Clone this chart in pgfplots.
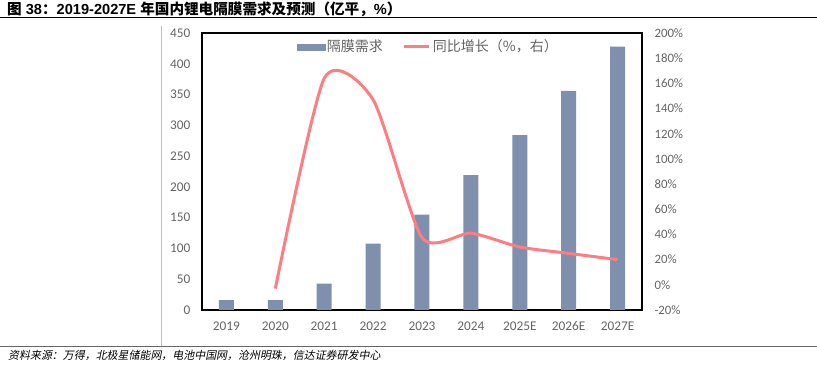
\documentclass[border=0pt]{standalone}
\usepackage{fontspec}
\setmainfont{Carlito}
\newfontfamily\cjk{Noto Sans CJK SC}
\newfontfamily\cjkit[FakeSlant=0.2]{Noto Sans CJK SC}
\newfontfamily\arial{Liberation Sans}
\usepackage{pgfplots}
\pgfplotsset{compat=1.18}
\definecolor{barc}{RGB}{127,143,174}
\definecolor{linec}{RGB}{255,124,128}
\definecolor{tickc}{RGB}{100,100,100}
\begin{document}
\begin{tikzpicture}
\path[use as bounding box] (0pt,0pt) rectangle (817pt,366pt);
\node[anchor=west, inner sep=0pt, font=\arial\bfseries\fontsize{14.6}{16}\selectfont] at (7pt,357pt) {{\cjk\bfseries 图} 38{\cjk\bfseries ：}2019-2027E {\cjk\bfseries 年国内锂电隔膜需求及预测（亿平，}\%{\cjk\bfseries ）}};
\draw[black, line width=1pt] (0pt,348pt) -- (817pt,348pt);
\draw[black!60, line width=0.8pt] (0pt,20pt) -- (817pt,20pt);
\draw[black!25, line width=0.8pt] (161pt,340pt) -- (161pt,20pt);
\node[anchor=west, inner sep=0pt, font=\cjkit\fontsize{10.95}{13}\selectfont] at (8pt,11pt) {资料来源：万得，北极星储能网，电池中国网，沧州明珠，信达证券研发中心};

\begin{axis}[at={(202pt,56pt)}, anchor=south west, scale only axis,
  width=440pt, height=277pt,
  xmin=-0.5, xmax=8.5, ymin=0, ymax=450,
  ytick={0,50,...,450},
  xtick={0,...,8},
  xticklabels={2019,2020,2021,2022,2023,2024,2025E,2026E,2027E},
  axis line style={black, line width=1.2pt},
  tick style={draw=none},
  ticklabel style={font=\fontsize{13.3}{15}\selectfont, text=tickc},
  /pgf/number format/assume math mode=true,
  yticklabel style={xshift=-8pt},
  xticklabel style={yshift=-8pt},
  ]
\addplot[ybar, bar width=15pt, fill=barc, draw=none] coordinates {
(0,16) (1,16) (2,43) (3,108) (4,155) (5,219) (6,284) (7,356) (8,428)};
\end{axis}

\begin{axis}[at={(202pt,56pt)}, anchor=south west, scale only axis,
  width=440pt, height=277pt,
  xmin=-0.5, xmax=8.5, ymin=-20, ymax=200,
  ytick={-20,0,...,200},
  axis x line=none, axis y line*=right,
  y axis line style={draw=none},
  tick style={draw=none},
  ticklabel style={font=\fontsize{12.8}{15}\selectfont, text=tickc},
  /pgf/number format/assume math mode=true,
  yticklabel={\pgfmathprintnumber{\tick}\%},
  yticklabel style={xshift=9pt},
  legend style={at={(0.514,0.99)}, anchor=north, draw=none, fill=none,
    font=\cjk\fontsize{14}{15}\selectfont, text=tickc,
    /tikz/every even column/.append style={column sep=18pt}},
  legend columns=2,
  ]
\addlegendimage{legend image code/.code={\fill[barc] (0pt,-3pt) rectangle (28pt,3pt);}}
\addlegendentry{隔膜需求}
\addplot[linec, line width=3pt, smooth, tension=0.4,
  legend image code/.code={\draw[linec, line width=3pt] (0pt,0pt) -- (25pt,0pt);}]
  coordinates {(1,-3) (2,164) (3,147) (4,37.5) (5,41) (6,30) (7,25) (8,20)};
\addlegendentry{同比增长（\%，右）}
\end{axis}
\end{tikzpicture}
\end{document}
